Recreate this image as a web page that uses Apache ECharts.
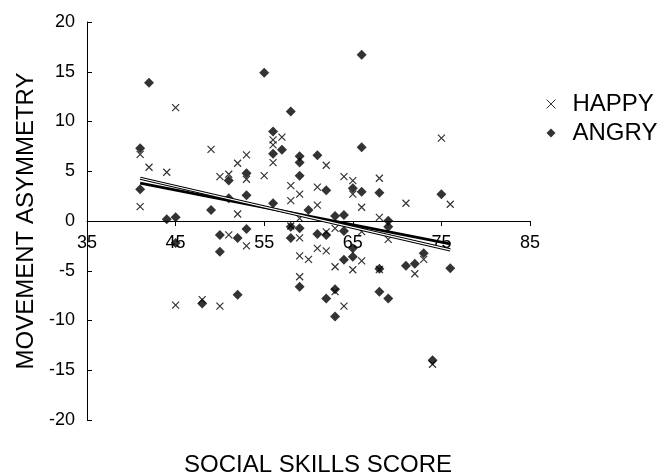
<!DOCTYPE html>
<html>
<head>
<meta charset="utf-8">
<script src="https://cdn.jsdelivr.net/npm/echarts@6/dist/echarts.min.js"></script>
<style>html,body{margin:0;padding:0;background:#fff}#c{width:670px;height:473px}</style>
</head>
<body>
<div id="c"></div>
<script>
// HAPPY series (social skills score, movement asymmetry)
const happyX = [45,41,42,44,49,41,50,51,52,53,53,52,51,53,45,48,50,59,59,59,60,61,62,62,63,59,63,63,65,66,64,68,68,69,66,72,73,74,75,76,71,56,56,57,56,62,55,58,59,58,61,64,65,65,68,66,61,58];
const happyY = [11.4,6.7,5.4,4.9,7.2,1.45,4.46,4.7,5.8,6.65,4.2,0.7,-1.4,-2.5,-8.46,-7.9,-8.56,0.27,-1.7,-3.5,-3.86,-2.75,-3.0,-1.1,-0.74,-5.6,-4.6,-7.1,-4.9,-4.0,-8.56,-4.87,0.37,-1.85,-1.07,-5.3,-3.86,-14.4,8.33,1.68,1.78,8.16,7.65,8.43,5.87,5.6,4.56,3.56,2.7,2.05,3.4,4.46,4.06,2.7,4.3,1.38,1.6,-0.5];
// ANGRY series
const angryX = [42,41,41,49,44,45,45,51,53,53,51,50,52,53,50,48,52,58,59,60,58,61,62,63,59,63,62,64,64,64,65,65,63,68,68,69,71,72,73,76,74,75,69,69,55,66,58,56,56,57,66,59,59,61,59,62,65,66,68,56];
const angryY = [13.9,7.3,3.2,1.1,0.17,0.37,-2.2,4.06,4.8,2.6,2.28,-1.4,-1.7,-0.8,-3.1,-8.3,-7.4,-0.57,-0.74,1.1,-1.7,-1.3,-1.4,0.5,-6.6,-6.85,-7.8,0.6,-1.0,-3.9,-2.75,-3.6,-9.6,-4.8,-7.1,-7.8,-4.5,-4.3,-3.25,-4.76,-14.0,2.7,0.03,-0.57,14.9,16.7,11.0,9.0,6.75,7.15,7.4,6.5,5.87,6.6,4.56,3.1,3.3,2.95,2.85,1.78];
// Linear trend lines (end points)
const trendHappyX = [41, 76];
const trendHappyY = [4.3, -2.9];
const trendAngryX = [41, 76];
const trendAngryY = [3.8, -2.3];
// Axis ticks
const xTicks = [35,45,55,65,75,85];
const yTicks = [-20,-15,-10,-5,0,5,10,15,20];

const zip = (a,b) => a.map((v,i)=>[v,b[i]]);
const FONT = 'Liberation Sans, Arial, sans-serif';
const crossPath = 'path://M0,0L10,10M10,0L0,10';

const GRID = {left: 87, right: 140, top: 22, bottom: 53};
const plotH = 473 - GRID.top - GRID.bottom;
const yMin = yTicks[0], yMax = yTicks[yTicks.length-1];
// shift x axis up so it sits on y = 0
const xAxisOffset = -plotH * (0 - yMin) / (yMax - yMin);

const chart = echarts.init(document.getElementById('c'), null, {renderer:'canvas'});
chart.setOption({
  animation: false,
  backgroundColor: '#fff',
  textStyle: {fontFamily: FONT, color:'#000'},
  grid: GRID,
  legend: {
    orient: 'vertical', left: 541, top: 87, itemGap: 5,
    itemWidth: 9, itemHeight: 9,
    textStyle: {fontFamily: FONT, fontSize: 24, color: '#000', padding: [0,0,0,12]},
    data: [
      {name:'HAPPY', icon: crossPath, itemStyle:{color:'transparent', borderColor:'#000', borderWidth:1}},
      {name:'ANGRY', icon: 'diamond', itemStyle:{color:'#000'}}
    ]
  },
  graphic: [{
    type: 'text', x: 318, y: 465,
    style: {text: 'SOCIAL SKILLS SCORE', fontFamily: FONT, fontSize: 24, fill: '#000', textAlign: 'center', textVerticalAlign: 'middle'}
  }],
  xAxis: {
    type: 'value', min: xTicks[0], max: xTicks[xTicks.length-1], interval: 10,
    offset: xAxisOffset,
    axisLine: {onZero: false, lineStyle: {color:'#000', width: 1}},
    axisTick: {show: true, inside: false, length: 5, lineStyle:{color:'#000'}},
    axisLabel: {fontFamily: FONT, fontSize: 18, color:'#000', margin: 13},
    splitLine: {show: false}
  },
  yAxis: {
    type: 'value', min: yMin, max: yMax, interval: 5,
    name: 'MOVEMENT ASYMMETRY', nameLocation: 'middle', nameGap: 48, nameRotate: 90,
    nameTextStyle: {fontFamily: FONT, fontSize: 24, color:'#000'},
    axisLine: {show: true, lineStyle: {color:'#000', width: 1}},
    axisTick: {show: true, inside: true, length: 5, lineStyle:{color:'#000'}},
    axisLabel: {fontFamily: FONT, fontSize: 18, color:'#000', margin: 12},
    splitLine: {show: false}
  },
  series: [
    {name:'HAPPY', type:'scatter', data: zip(happyX, happyY), symbol: crossPath, symbolSize: 7,
     itemStyle:{color:'transparent', borderColor:'#000', borderWidth:1.2}, z: 3},
    {name:'ANGRY', type:'scatter', data: zip(angryX, angryY), symbol: 'diamond', symbolSize: 10,
     itemStyle:{color:'#000'}, z: 3},
    {name:'trendAngry', type:'line', data: zip(trendAngryX, trendAngryY), symbol:'none', silent:true,
     lineStyle:{color:'#000', width:2.8}, z: 4},
    {name:'trendHappyOuter', type:'line', data: zip(trendHappyX, trendHappyY), symbol:'none', silent:true,
     lineStyle:{color:'#000', width:3.2}, z: 5},
    {name:'trendHappyInner', type:'line', data: zip(trendHappyX, trendHappyY), symbol:'none', silent:true,
     lineStyle:{color:'#fff', width:1.2}, z: 6}
  ]
});
</script>
</body>
</html>
